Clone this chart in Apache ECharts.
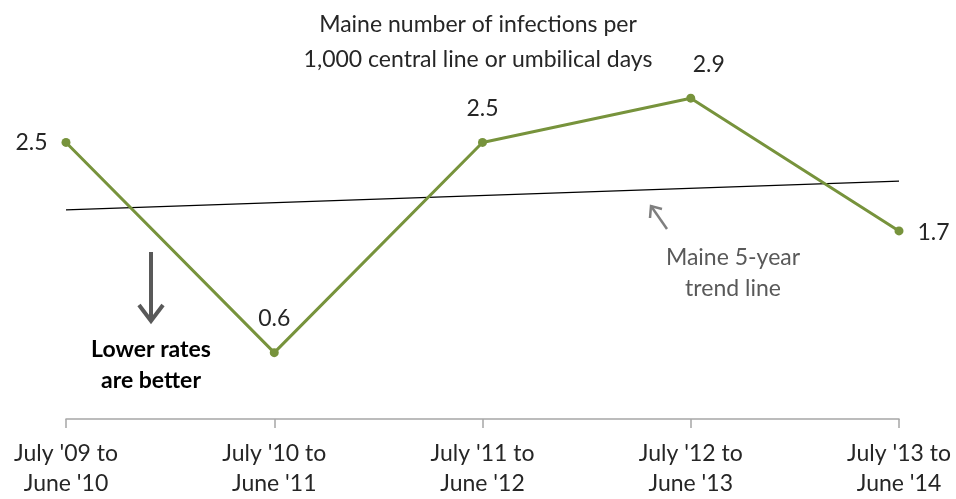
<!DOCTYPE html>
<html>
<head>
<meta charset="utf-8">
<script src="https://cdn.jsdelivr.net/npm/echarts@6/dist/echarts.min.js"></script>
<style>
  html, body { margin: 0; padding: 0; background: #fff; }
  #chart { width: 956px; height: 499px; }
</style>
</head>
<body>
<div id="chart"></div>
<script>
// Fiscal-year periods (July to June)
const categories = [
  "July '09 to\nJune '10",
  "July '10 to\nJune '11",
  "July '11 to\nJune '12",
  "July '12 to\nJune '13",
  "July '13 to\nJune '14"
];
// Infections per 1,000 central line or umbilical days
const rates = [2.5, 0.6, 2.5, 2.9, 1.7];
// Five-year trend line, start and end values
const trendPoints = [[0, 1.89], [4, 2.15]];

const FONT = 'Lato, "Open Sans", sans-serif';
const GREEN = '#77933c';
const TEXT = '#262626';

const labelPos = ['left', 'top', 'top', 'top', 'right'];
const labelOffset = [[0, 0], [0, 0], [0, 0], [18, 0], [0, 2]];

const chart = echarts.init(document.getElementById('chart'));
chart.setOption({
  animation: false,
  backgroundColor: '#fff',
  textStyle: { fontFamily: FONT },
  title: {
    text: 'Maine number of infections per\n1,000 central line or umbilical days',
    left: 'center',
    top: 2,
    textStyle: { fontFamily: FONT, fontSize: 23, fontWeight: 'normal', color: TEXT, lineHeight: 35 }
  },
  grid: { left: 66, right: 57, top: 65, bottom: 78 },
  xAxis: {
    type: 'category',
    data: categories,
    boundaryGap: false,
    axisLine: { lineStyle: { color: '#a6a6a6', width: 1.5 } },
    axisTick: { show: true, alignWithLabel: true, length: 9, lineStyle: { color: '#a6a6a6', width: 1.5 } },
    axisLabel: { fontFamily: FONT, fontSize: 23, color: TEXT, lineHeight: 30, margin: 20, interval: 0 }
  },
  yAxis: {
    type: 'value', min: 0, max: 3.2, show: false, splitLine: { show: false }
  },
  series: [
    {
      type: 'line',
      data: trendPoints,
      symbol: 'none',
      lineStyle: { color: '#000', width: 1.2 },
      z: 1,
      silent: true
    },
    {
      type: 'line',
      data: rates.map((v, i) => ({
        value: v,
        label: { position: labelPos[i], distance: labelPos[i] === 'top' ? 18 : 14, offset: labelOffset[i] }
      })),
      symbol: 'circle',
      symbolSize: 9,
      itemStyle: { color: GREEN },
      lineStyle: { color: GREEN, width: 3 },
      label: {
        show: true,
        fontFamily: FONT,
        fontSize: 23,
        color: TEXT,
        formatter: p => p.value.toFixed(1)
      },
      z: 3
    }
  ],
  graphic: [
    // "Lower rates are better" arrow
    { type: 'line', shape: { x1: 151, y1: 252, x2: 151, y2: 318 }, style: { stroke: '#595959', lineWidth: 4 } },
    { type: 'polyline', shape: { points: [[139, 305], [151, 321], [163, 305]] }, style: { stroke: '#595959', lineWidth: 4, fill: null } },
    {
      type: 'text', x: 151, y: 334,
      style: { text: 'Lower rates\nare better', font: 'bold 23px ' + FONT, fill: '#000', align: 'center', lineHeight: 31 }
    },
    // Trend line callout arrow
    { type: 'line', shape: { x1: 667, y1: 229, x2: 651, y2: 206 }, style: { stroke: '#7f7f7f', lineWidth: 2.5 } },
    { type: 'polyline', shape: { points: [[650, 218], [651, 206], [662, 209]] }, style: { stroke: '#7f7f7f', lineWidth: 2.5, fill: null } },
    {
      type: 'text', x: 733, y: 242,
      style: { text: 'Maine 5-year\ntrend line', font: '23px ' + FONT, fill: '#595959', align: 'center', lineHeight: 31 }
    }
  ]
});
</script>
</body>
</html>
